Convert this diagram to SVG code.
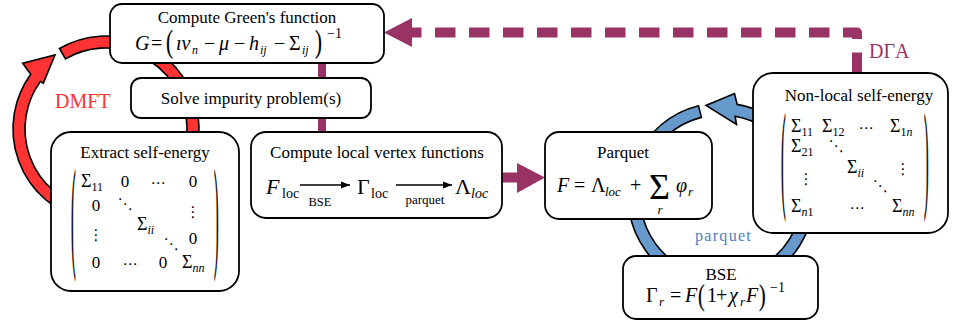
<svg xmlns="http://www.w3.org/2000/svg" width="953" height="324" viewBox="0 0 953 324">
<defs>
<style>
.t{font-family:"Liberation Serif","Times New Roman","DejaVu Serif",serif;font-size:17px;fill:#000}
.i{font-style:italic}
.s{font-size:12px}
.p{stroke:#000;stroke-width:0.15}
.box{fill:#fff;stroke:#000;stroke-width:1.8}
.band{stroke:#000;stroke-width:1.6;stroke-linejoin:miter}
.dots{font-family:"DejaVu Serif","DejaVu Sans",serif;font-size:15px;fill:#000}
</style>
<marker id="tip" viewBox="0 0 10 10" refX="10" refY="5" markerWidth="9" markerHeight="9" markerUnits="userSpaceOnUse" orient="auto"><path d="M0,1 L10,5 L0,9 Z" fill="#000"/></marker>
</defs>
<rect width="953" height="324" fill="#fff"/>

<g id="connectors">
  <path class="band" fill="#ff3333" d="M59.5,48.46 A93,93 0 1 1 30.76,74.34 L22.7,63.3 L55,55 L43.3,83.3 L40.47,81.39 A81,81 0 1 0 65.5,58.85 Z"/>
  <path class="band" fill="#6699cc" d="M698.5,105.76 A93,93 0 1 0 737.15,104.41 L734.5,93.5 L706,105.5 L736.5,124.5 L735.07,116.23 A81,81 0 1 1 701.4,117.4 Z"/>
  <line x1="322" y1="60" x2="322" y2="135" stroke="#993366" stroke-width="8"/>
  <line x1="500" y1="177.5" x2="519" y2="177.5" stroke="#993366" stroke-width="10"/>
  <polygon points="517,163 545,177.5 517,193" fill="#993366"/>
  <path d="M857,73 V32.5 H412" fill="none" stroke="#993366" stroke-width="10" stroke-dasharray="20.5 13.5" stroke-linejoin="round"/>
  <polygon points="384,32.5 412,18 412,47" fill="#993366"/>
  <text x="55" y="108" class="t" style="font-size:20px;fill:#ff3333">DMFT</text>
  <text x="869" y="58" class="t" style="font-size:20px;fill:#993366">DΓA</text>
  <text x="695" y="241" class="t" style="font-size:16px;fill:#4f7fc0;letter-spacing:1.3px">parquet</text>
</g>

<g id="green">
  <rect class="box" x="110" y="4" width="274" height="59" rx="12"/>
  <text x="247" y="23" class="t" text-anchor="middle">Compute Green's function</text>
  <text x="135" y="50" class="t i" style="font-size:20px">G</text>
  <text x="151" y="50" class="t" style="font-size:20px">=</text>
  <text class="t p" style="font-size:21px" transform="translate(166,52) scale(1,1.5)">(</text>
  <text x="176" y="50" class="t i" style="font-size:20px">ıν</text>
  <text x="192" y="54" class="t i s">n</text>
  <text x="204" y="50" class="t" style="font-size:20px">−</text>
  <text x="219" y="50" class="t i" style="font-size:20px">μ</text>
  <text x="234" y="50" class="t" style="font-size:20px">−</text>
  <text x="249" y="50" class="t i" style="font-size:20px">h</text>
  <text x="260" y="54" class="t i s">ij</text>
  <text x="274" y="50" class="t" style="font-size:20px">−</text>
  <text x="289" y="50" class="t" style="font-size:20px">Σ</text>
  <text x="302" y="54" class="t i s">ij</text>
  <text class="t p" style="font-size:21px" transform="translate(315,52) scale(1,1.5)">)</text>
  <text x="327" y="38" class="t" style="font-size:14px">−1</text>
</g>

<g id="solve">
  <rect class="box" x="131" y="78" width="240" height="40" rx="10"/>
  <text x="251" y="104" class="t" text-anchor="middle">Solve impurity problem(s)</text>
</g>

<g id="extract">
  <rect class="box" x="51" y="132" width="188" height="159" rx="20"/>
  <text x="145" y="158" class="t" text-anchor="middle">Extract self-energy</text>
  <text class="t p" style="font-size:14px" transform="translate(71,255.4) scale(1,8.71)">(</text>
  <text class="t p" style="font-size:14px" transform="translate(214,255.4) scale(1,8.71)">)</text>
  <text x="81" y="187" class="t" style="font-size:18px">Σ<tspan class="s" dy="4">11</tspan></text>
  <text x="125" y="187" class="t" text-anchor="middle">0</text>
  <text x="158" y="188" class="dots" text-anchor="middle">⋯</text>
  <text x="193" y="187" class="t" text-anchor="middle">0</text>
  <text x="96" y="211" class="t" text-anchor="middle">0</text>
  <text x="125" y="209" class="dots" text-anchor="middle">⋱</text>
  <text x="193" y="217" class="dots" text-anchor="middle">⋮</text>
  <text x="96" y="240" class="dots" text-anchor="middle">⋮</text>
  <text x="137" y="230" class="t" style="font-size:18px">Σ<tspan class="s i" dy="4">ii</tspan></text>
  <text x="171" y="249" class="dots" text-anchor="middle">⋱</text>
  <text x="193" y="244" class="t" text-anchor="middle">0</text>
  <text x="96" y="268" class="t" text-anchor="middle">0</text>
  <text x="130" y="269" class="dots" text-anchor="middle">⋯</text>
  <text x="163" y="268" class="t" text-anchor="middle">0</text>
  <text x="182" y="268" class="t" style="font-size:18px">Σ<tspan class="s i" dy="4">nn</tspan></text>
</g>

<g id="vertex">
  <rect class="box" x="251" y="132" width="251" height="86" rx="15"/>
  <text x="377" y="158" class="t" text-anchor="middle">Compute local vertex functions</text>
  <text x="266" y="194" class="t i" style="font-size:22px">F</text>
  <text x="282" y="198" class="t" style="font-size:14px">loc</text>
  <line x1="300" y1="185" x2="350" y2="185" stroke="#000" stroke-width="1.6" marker-end="url(#tip)"/>
  <text x="320" y="206" class="t" style="font-size:12.5px" text-anchor="middle">BSE</text>
  <text x="357" y="194" class="t" style="font-size:22px">Γ</text>
  <text x="371" y="198" class="t" style="font-size:14px">loc</text>
  <line x1="396" y1="185" x2="452" y2="185" stroke="#000" stroke-width="1.6" marker-end="url(#tip)"/>
  <text x="425" y="204" class="t" style="font-size:13px" text-anchor="middle">parquet</text>
  <text x="455" y="194" class="t" style="font-size:22px">Λ</text>
  <text x="471" y="198" class="t i" style="font-size:14px">loc</text>
</g>

<g id="parquet">
  <rect class="box" x="545" y="132" width="167" height="87" rx="14"/>
  <text x="623" y="158" class="t" text-anchor="middle">Parquet</text>
  <text x="557" y="192" class="t i" style="font-size:20px">F</text>
  <text x="574" y="192" class="t" style="font-size:20px">=</text>
  <text x="591" y="192" class="t" style="font-size:20px">Λ</text>
  <text x="605" y="196" class="t i" style="font-size:13px">loc</text>
  <text x="630" y="192" class="t" style="font-size:20px">+</text>
  <text x="649" y="199" class="t" style="font-size:36px">Σ</text>
  <text x="660" y="214" class="t i" style="font-size:13px" text-anchor="middle">r</text>
  <text x="676" y="192" class="t i" style="font-size:20px">φ</text>
  <text x="688" y="196" class="t i" style="font-size:13px">r</text>
</g>

<g id="bse">
  <rect class="box" x="623" y="256" width="195" height="63" rx="13"/>
  <text x="721" y="280" class="t" text-anchor="middle">BSE</text>
  <text x="646" y="302" class="t" style="font-size:20px">Γ</text>
  <text x="659" y="306" class="t i" style="font-size:13px">r</text>
  <text x="670" y="302" class="t" style="font-size:20px">=</text>
  <text x="685" y="302" class="t i" style="font-size:20px">F</text>
  <text class="t p" style="font-size:20px" transform="translate(698,305) scale(1,1.45)">(</text>
  <text x="707" y="302" class="t" style="font-size:20px">1</text>
  <text x="716" y="302" class="t" style="font-size:20px">+</text>
  <text x="729" y="302" class="t i" style="font-size:20px">χ</text>
  <text x="740" y="306" class="t i" style="font-size:13px">r</text>
  <text x="746" y="302" class="t i" style="font-size:20px">F</text>
  <text class="t p" style="font-size:20px" transform="translate(759,305) scale(1,1.45)">)</text>
  <text x="770" y="292" class="t" style="font-size:14px">−1</text>
</g>

<g id="nonlocal">
  <rect class="box" x="753" y="73" width="195" height="160" rx="20"/>
  <text x="859" y="101" class="t" text-anchor="middle">Non-local self-energy</text>
  <text class="t p" style="font-size:14px" transform="translate(781,195.8) scale(1,8.54)">(</text>
  <text class="t p" style="font-size:14px" transform="translate(924,195.8) scale(1,8.54)">)</text>
  <text x="791" y="132" class="t" style="font-size:18px">Σ<tspan class="s" dy="4">11</tspan></text>
  <text x="822" y="132" class="t" style="font-size:18px">Σ<tspan class="s" dy="4">12</tspan></text>
  <text x="866" y="133" class="dots" text-anchor="middle">⋯</text>
  <text x="890" y="132" class="t" style="font-size:18px">Σ<tspan class="s" dy="4">1<tspan class="i">n</tspan></tspan></text>
  <text x="791" y="152" class="t" style="font-size:18px">Σ<tspan class="s" dy="4">21</tspan></text>
  <text x="836" y="151" class="dots" text-anchor="middle">⋱</text>
  <text x="806" y="184" class="dots" text-anchor="middle">⋮</text>
  <text x="847" y="173" class="t" style="font-size:18px">Σ<tspan class="s i" dy="4">ii</tspan></text>
  <text x="903" y="174" class="dots" text-anchor="middle">⋮</text>
  <text x="880" y="191" class="dots" text-anchor="middle">⋱</text>
  <text x="791" y="212" class="t" style="font-size:18px">Σ<tspan class="s" dy="4"><tspan class="i">n</tspan>1</tspan></text>
  <text x="857" y="213" class="dots" text-anchor="middle">⋯</text>
  <text x="892" y="212" class="t" style="font-size:18px">Σ<tspan class="s i" dy="4">nn</tspan></text>
</g>
</svg>
